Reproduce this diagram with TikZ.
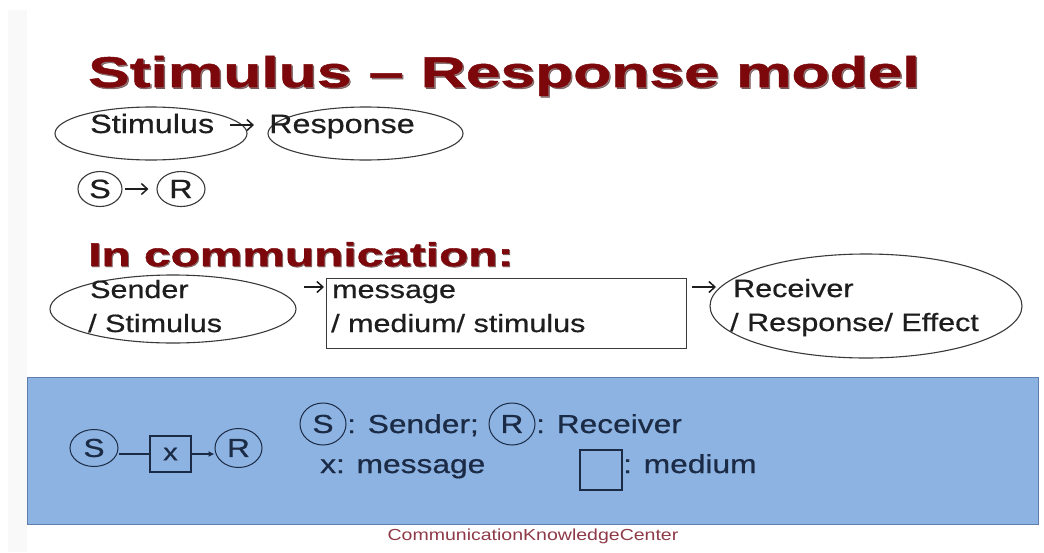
\documentclass[tikz,border=0pt]{standalone}
\usepackage{fontspec}
\usetikzlibrary{shapes.geometric,arrows.meta,calc}
\setmainfont{Liberation Sans}
\newfontfamily\bodyfont[FakeStretch=1.22,FakeBold=0.6]{Liberation Sans}
\newfontfamily\footfont[FakeStretch=1.22]{Liberation Sans}
\newfontfamily\headfont[FakeStretch=1.45,FakeBold=1.2]{Liberation Sans Bold}

\definecolor{titlered}{HTML}{7D080C}
\definecolor{titleshade}{HTML}{4A2424}
\definecolor{inkgray}{HTML}{1E1E1E}
\definecolor{ovalgray}{HTML}{3A3A3A}
\definecolor{bandblue}{HTML}{8DB3E2}
\definecolor{bandedge}{HTML}{5E7FAE}
\definecolor{navy}{HTML}{1C2B45}
\definecolor{ckcred}{HTML}{8E3A48}
\definecolor{sidegray}{HTML}{F9F9F9}

\begin{document}
\begin{tikzpicture}[x=1pt,y=-1pt,
  headline/.style={text=titlered, inner sep=0pt, anchor=base west,
    font=\headfont\fontsize{43}{48}\selectfont},
  subhead/.style={text=titlered, inner sep=0pt, anchor=base west,
    font=\headfont\fontsize{33}{38}\selectfont},
  rowtext/.style={text=inkgray, inner sep=0pt, anchor=base west,
    font=\bodyfont\fontsize{26.5}{30}\selectfont},
  commtext/.style={text=inkgray, inner sep=0pt, anchor=base west,
    font=\bodyfont\fontsize{25}{29}\selectfont},
  bandtext/.style={text=navy, inner sep=0pt, anchor=base west,
    font=\bodyfont\fontsize{26}{30}\selectfont},
  oval/.style={ellipse, draw=ovalgray, line width=1.1pt, inner sep=0pt,
    text=inkgray, font=\bodyfont\fontsize{26.5}{30}\selectfont},
  navyoval/.style={ellipse, draw=navy, line width=1pt, inner sep=0pt,
    text=navy, font=\bodyfont\fontsize{26}{30}\selectfont},
  navybox/.style={rectangle, draw=navy, line width=2pt, inner sep=0pt,
    text=navy, font=\bodyfont\fontsize{24}{28}\selectfont},
  framebox/.style={rectangle, draw=ovalgray, line width=1pt, inner sep=0pt},
  textarrow/.style={-{Straight Barb[length=6pt,width=11pt]}, line width=1.5pt, draw=inkgray},
  navyline/.style={draw=navy, line width=2pt},
]
\useasboundingbox (0,0) rectangle (1044,552);
\fill[white] (0,0) rectangle (1044,552);
\fill[sidegray] (8,10) rectangle (27,552);

% title with a soft drop shadow
\node[headline, text=titleshade, opacity=0.6] (titleshadow) at (89.5,88.5) {Stimulus – Response model};
\node[headline] (title) at (88,87) {Stimulus – Response model};

% Stimulus -> Response
\node[oval, minimum width=192pt, minimum height=53pt] (stimOval) at (151,133.5) {};
\node[oval, minimum width=195pt, minimum height=53pt] (respOval) at (365.5,133.5) {};
\node[rowtext] (stimText) at (90,133) {Stimulus};
\node[rowtext] (respText) at (269,133) {Response};
\coordinate (stimArrowA) at (230,125);
\coordinate (stimArrowB) at (254,125);
\draw[textarrow] (stimArrowA) -- (stimArrowB);

% S -> R
\node[oval, minimum width=44pt, minimum height=35pt] (sOval) at (100,189) {S};
\node[oval, minimum width=48pt, minimum height=35pt] (rOval) at (181,189) {R};
\draw[textarrow, shorten >=8pt, shorten <=2pt] (sOval.east) -- (rOval.west);

% In communication
\node[subhead, text=titleshade, opacity=0.6] (commShadow) at (89,267) {In communication:};
\node[subhead] (commHead) at (88,266) {In communication:};

\node[oval, minimum width=246pt, minimum height=68pt] (senderOval) at (173,309) {};
\node[commtext] (sender1) at (90,298) {Sender};
\node[commtext] (sender2) at (88,332) {/ Stimulus};

\node[framebox, minimum width=360pt, minimum height=70pt] (msgBox) at (506,313) {};
\node[commtext] (msg1) at (332,298) {message};
\node[commtext] (msg2) at (331,332) {/ medium/ stimulus};

\node[oval, minimum width=312pt, minimum height=104pt] (recvOval) at (866,306) {};
\node[commtext] (recv1) at (733,297) {Receiver};
\node[commtext] (recv2) at (730,331) {/ Response/ Effect};

\coordinate (arrowOneA) at (304,287);
\coordinate (arrowOneB) at (324,287);
\draw[textarrow] (arrowOneA) -- (arrowOneB);
\coordinate (arrowTwoA) at (692,287);
\coordinate (arrowTwoB) at (716,287);
\draw[textarrow] (arrowTwoA) -- (arrowTwoB);

% blue band
\filldraw[fill=bandblue, draw=bandedge, line width=1pt] (27,377) rectangle (1038,524);

\node[navyoval, minimum width=48pt, minimum height=37pt] (bandS) at (94,448) {S};
\node[navybox, minimum width=41pt, minimum height=36pt] (bandX) at (170.5,454) {x};
\node[navyoval, minimum width=47pt, minimum height=39pt] (bandR) at (238.5,448) {R};
\draw[navyline] (bandS.east |- bandX.west) -- (bandX.west);
\draw[navyline, -{Latex[length=6pt,width=6pt]}] (bandX.east) -- (bandX.east -| bandR.west);

\node[navyoval, minimum width=46pt, minimum height=42pt] (legS) at (323,424) {S};
\node[bandtext] (legSText) at (347,433) {: Sender;};
\node[navyoval, minimum width=46pt, minimum height=42pt] (legR) at (512,424) {R};
\node[bandtext] (legRText) at (536,433) {: Receiver};
\node[bandtext] (legX) at (320,473) {x: message};
\node[navybox, minimum width=42pt, minimum height=40pt] (legBox) at (601,470) {};
\node[bandtext] (legBoxText) at (623,473) {: medium};

% footer
\node[text=ckcred, inner sep=0pt, anchor=base, font=\footfont\fontsize{16}{19}\selectfont] (footer) at (533,540) {CommunicationKnowledgeCenter};
\end{tikzpicture}
\end{document}
